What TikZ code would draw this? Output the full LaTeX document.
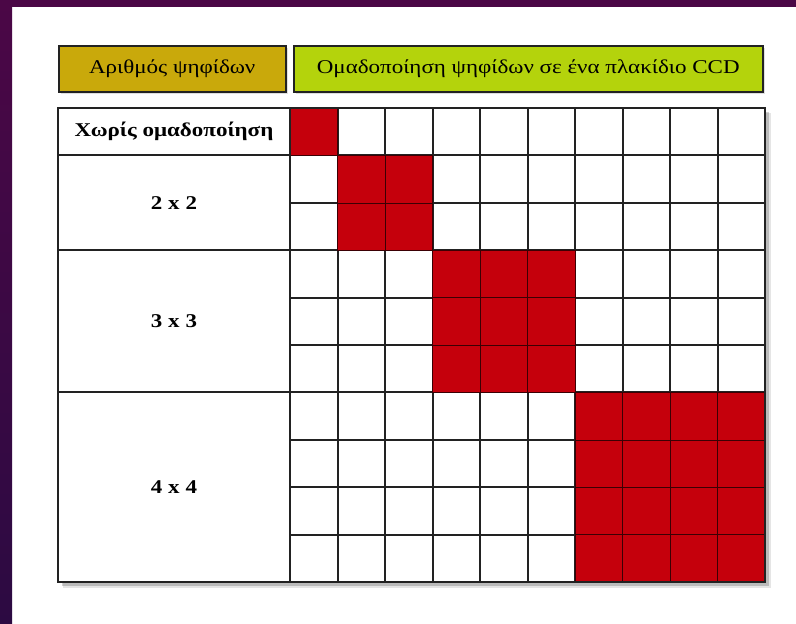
\documentclass[tikz,border=0pt]{standalone}
\usepackage{fontspec}
\setmainfont{Liberation Serif}
\newfontfamily\widefont[FakeStretch=1.18]{Liberation Serif}
\usetikzlibrary{shadows,calc}
\definecolor{bgpurpletop}{HTML}{4B0746}
\definecolor{bgpurplebot}{HTML}{2C0A42}
\definecolor{hdrgold}{HTML}{C9A90B}
\definecolor{hdrgreen}{HTML}{B4D30C}
\definecolor{cellred}{HTML}{C5000C}
\definecolor{gridline}{HTML}{222222}
\tikzset{
  hdrbox/.style={draw=gridline, line width=1.5pt, inner sep=0pt, font=\widefont\fontsize{19.5}{22}\selectfont,
     drop shadow={opacity=0.25, shadow xshift=2pt, shadow yshift=-2pt}},
  gridln/.style={draw=gridline, line width=2pt},
  redcell/.style={fill=cellred, draw=black!70!cellred, line width=0.6pt},
  lbl/.style={font=\widefont\fontsize{19.5}{22}\selectfont\bfseries, inner sep=0pt},
}
\begin{document}
\begin{tikzpicture}[x=1pt,y=-1pt]
\useasboundingbox (0,0) rectangle (796,624);
\fill[white] (0,0) rectangle (796,624);
% background strips
\fill[bgpurpletop] (0,0) rectangle (796,7);
\shade[top color=bgpurpletop, bottom color=bgpurplebot] (0,0) rectangle (12,624);
% headers
\node[hdrbox, fill=hdrgold, minimum width=227pt, minimum height=46pt, anchor=north west] (h1) at (58,45) {Αριθμός ψηφίδων};
\node[hdrbox, fill=hdrgreen, minimum width=469pt, minimum height=46pt, anchor=north west] (h2) at (293,45) {Ομαδοποίηση ψηφίδων σε ένα πλακίδιο CCD};
% table shadow
\fill[black, opacity=0.18] (62,112) rectangle (769,586);
\fill[black, opacity=0.10] (63,113) rectangle (771,588);
\fill[white] (58,108) rectangle (765,582);
% grid geometry
\def\xL{58}\def\xM{290}\def\xR{765}\def\yT{108}\def\yB{582}
\pgfmathsetmacro{\cw}{(765-290)/10}
\pgfmathsetmacro{\rh}{(582-108)/10}
% grid lines
\foreach \i in {1,...,9} {
  \draw[gridln] ({\xM+\i*\cw},\yT) -- ({\xM+\i*\cw},\yB);
  \draw[gridln] (\xM,{\yT+\i*\rh}) -- (\xR,{\yT+\i*\rh});
}
% red cells
\foreach \r/\c in {0/0, 1/1,1/2,2/1,2/2, 3/3,3/4,3/5,4/3,4/4,4/5,5/3,5/4,5/5,
  6/6,6/7,6/8,6/9,7/6,7/7,7/8,7/9,8/6,8/7,8/8,8/9,9/6,9/7,9/8,9/9} {
  \draw[redcell] ({\xM+\c*\cw},{\yT+\r*\rh}) rectangle ({\xM+(\c+1)*\cw},{\yT+(\r+1)*\rh});
}
% label column separators
\draw[gridln] (\xL,{\yT+1*\rh}) -- (\xM,{\yT+1*\rh});
\draw[gridln] (\xL,{\yT+3*\rh}) -- (\xM,{\yT+3*\rh});
\draw[gridln] (\xL,{\yT+6*\rh}) -- (\xM,{\yT+6*\rh});
\draw[gridln] (\xM,\yT) -- (\xM,\yB);
% outer border
\draw[gridln] (\xL,\yT) rectangle (\xR,\yB);
% labels
\node[lbl] (l1) at ({(\xL+\xM)/2},{\yT+0.5*\rh}) {Χωρίς ομαδοποίηση};
\node[lbl] (l2) at ({(\xL+\xM)/2},{\yT+2*\rh}) {2 x 2};
\node[lbl] (l3) at ({(\xL+\xM)/2},{\yT+4.5*\rh}) {3 x 3};
\node[lbl] (l4) at ({(\xL+\xM)/2},{\yT+8*\rh}) {4 x 4};
\end{tikzpicture}
\end{document}
